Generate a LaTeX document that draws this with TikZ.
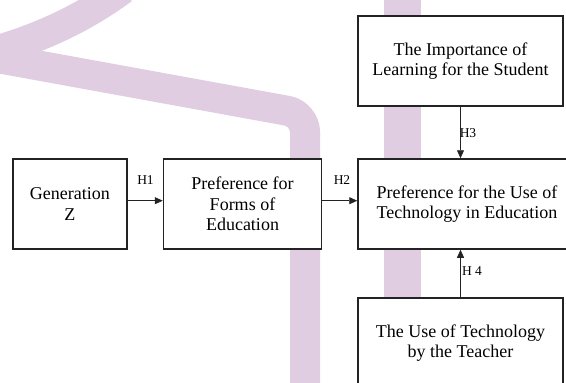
\documentclass[tikz,border=0pt]{standalone}
\usepackage{fontspec}
\setmainfont{Liberation Serif}
\usetikzlibrary{arrows.meta}
\definecolor{bandcol}{RGB}{224,205,225}
\definecolor{boxline}{RGB}{35,35,35}
\begin{document}
\begin{tikzpicture}[x=1pt,y=-1pt,
  band/.style={draw=bandcol, line width=30pt},
  box/.style={draw=boxline, fill=white, line width=1.5pt, rectangle, inner sep=0pt, align=center, font=\fontsize{18}{20.5}\selectfont},
  conn/.style={draw=boxline, line width=0.8pt, -{Triangle[length=8pt,width=7pt]}},
  lbl/.style={font=\fontsize{13.5}{15}\selectfont, inner sep=0pt}]
\useasboundingbox (0,0) rectangle (566,383);
\clip (0,0) rectangle (566,383);
\fill[white] (0,0) rectangle (566,383);
% background bands
\draw[band] (123,-11) .. controls (78,22) and (32,42) .. (-30,58);
\draw[band, rounded corners=18pt] (-30,53) -- (305,114) -- (305,400);
\draw[draw=bandcol, line width=37pt] (402,-5) -- (402,400);
% boxes
\node[box, minimum width=114pt, minimum height=90pt] (genz) at (69.8,204) {Generation\\Z};
\node[box, minimum width=158pt, minimum height=90pt] (forms) at (242.5,204) {Preference for\\Forms of\\Education};
\node[box, minimum width=218pt, minimum height=90pt] (pref) at (467,204) {Preference for the Use of\\Technology in Education};
\node[box, minimum width=205pt, minimum height=90pt] (imp) at (460.5,61) {The Importance of\\Learning for the Student};
\node[box, minimum width=205pt, minimum height=90pt] (use) at (460.5,343) {The Use of Technology\\by the Teacher};
% connectors
\draw[conn] ([yshift=3.3pt]genz.east) -- ([yshift=3.3pt]forms.west);
\draw[conn] ([yshift=3.3pt]forms.east) -- ([yshift=3.3pt]forms.east -| pref.west);
\draw[conn] (imp.south) -- (imp.south |- pref.north);
\draw[conn] (use.north) -- (use.north |- pref.south);
% labels
\node[lbl] (h1) at (145.5,180.5) {H1};
\node[lbl] (h2) at (342,180.5) {H2};
\node[lbl] (h3) at (468,133) {H3};
\node[lbl] (h4) at (472,271) {H 4};
\end{tikzpicture}
\end{document}
